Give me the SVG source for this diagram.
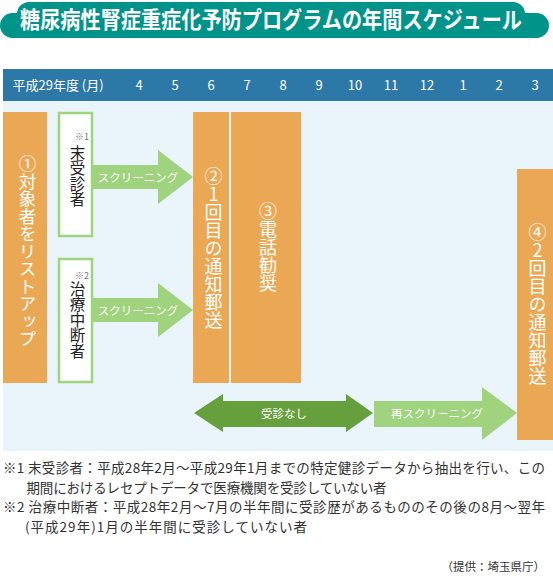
<svg xmlns="http://www.w3.org/2000/svg" width="553" height="576" viewBox="0 0 553 576">
<style>
text{font-family:"Noto Sans CJK JP","Noto Sans",sans-serif}
.title{fill:#fff;font-weight:bold;font-size:20.5px}
.hdr{fill:#fff;font-size:13px}
.mon{fill:#fff;font-size:13px;text-anchor:middle}
.box{fill:#eba854}
.gbox{fill:#fff;stroke:#9fd37e;stroke-width:2.5}
.vt{writing-mode:vertical-rl;text-orientation:upright;fill:#fff;font-size:18px}
.vk{writing-mode:vertical-rl;text-orientation:upright;fill:#222;font-size:15.5px}
.note{fill:#777;font-size:9px}
.lbl{fill:#fff;font-size:11.5px;text-anchor:middle;dominant-baseline:central}
.arrL{fill:#9fd37e}
.arrD{fill:#66a03c}
.fn{fill:#333;font-size:13.5px}
</style>
<g id="title">
<rect x="0" y="13" width="549" height="25" rx="12.5" fill="#00938a"/>
<rect x="17" y="2" width="508" height="34" rx="12" fill="#00938a"/>
<text class="title" x="20" y="0" transform="translate(0,28) scale(1,1.12)" textLength="502" lengthAdjust="spacingAndGlyphs">糖尿病性腎症重症化予防プログラムの年間スケジュール</text>
</g>
<g id="header">
<rect x="3" y="69" width="550" height="32" fill="#2c78a6"/>
<text class="hdr" x="12.5" y="89.5">平成29年度 (月)</text>
<text class="mon" x="139" y="89.5">4</text>
<text class="mon" x="175" y="89.5">5</text>
<text class="mon" x="211" y="89.5">6</text>
<text class="mon" x="247" y="89.5">7</text>
<text class="mon" x="283" y="89.5">8</text>
<text class="mon" x="319" y="89.5">9</text>
<text class="mon" x="355" y="89.5">10</text>
<text class="mon" x="391" y="89.5">11</text>
<text class="mon" x="427" y="89.5">12</text>
<text class="mon" x="463" y="89.5">1</text>
<text class="mon" x="499" y="89.5">2</text>
<text class="mon" x="535" y="89.5">3</text>
</g>
<rect id="panel" x="3" y="101" width="550" height="350" fill="#eaf4fb"/>
<g id="connectors">
<polygon class="arrL" points="92,165 158,165 158,150 193,177 158,204 158,189 92,189"/>
<text class="lbl" x="138" y="177">スクリーニング</text>
<polygon class="arrL" points="92,298 158,298 158,283 193,310 158,337 158,322 92,322"/>
<text class="lbl" x="138" y="310">スクリーニング</text>
<polygon class="arrD" points="194,413 223,394 223,401 346,401 346,394 373,413 346,432 346,427 223,427 223,432"/>
<text class="lbl" x="284" y="413">受診なし</text>
<polygon class="arrL" points="374,401 482,401 482,387 517,413 482,440 482,427 374,427"/>
<text class="lbl" x="437" y="413">再スクリーニング</text>
</g>
<g id="node1">
<rect class="box" x="3" y="112" width="44" height="271"/>
<text class="vt" x="27.5" y="155" style="font-size:17.5px">①対象者をリストアップ</text>
</g>
<g id="node-mijushin">
<rect class="gbox" x="59" y="113" width="33" height="123"/>
<text class="note" x="75" y="140">※1</text>
<text class="vk" x="77.5" y="145">末受診者</text>
</g>
<g id="node-chuudan">
<rect class="gbox" x="59" y="259" width="33" height="123"/>
<text class="note" x="75" y="279">※2</text>
<text class="vk" x="77.5" y="281">治療中断者</text>
</g>
<g id="node2">
<rect class="box" x="193" y="112" width="36" height="271"/>
<text class="vt" x="213.5" y="167">②1回目の通知郵送</text>
</g>
<g id="node3">
<rect class="box" x="231" y="112" width="70" height="271"/>
<text class="vt" x="268" y="202">③電話勧奨</text>
</g>
<g id="node4">
<rect class="box" x="517" y="169" width="36" height="271"/>
<text class="vt" x="537.5" y="223">④2回目の通知郵送</text>
</g>
<g id="footnotes">
<text class="fn" x="3" y="473" textLength="542">※1 末受診者：平成28年2月〜平成29年1月までの特定健診データから抽出を行い、この</text>
<text class="fn" x="26.5" y="492.5" textLength="360">期間におけるレセプトデータで医療機関を受診していない者</text>
<text class="fn" x="3" y="512" textLength="542">※2 治療中断者：平成28年2月〜7月の半年間に受診歴があるもののその後の8月〜翌年</text>
<text class="fn" x="25" y="531.5" textLength="282">(平成29年)1月の半年間に受診していない者</text>
<text class="fn" x="545" y="571" style="font-size:11.5px;text-anchor:end">（提供：埼玉県庁）</text>
</g>
</svg>
